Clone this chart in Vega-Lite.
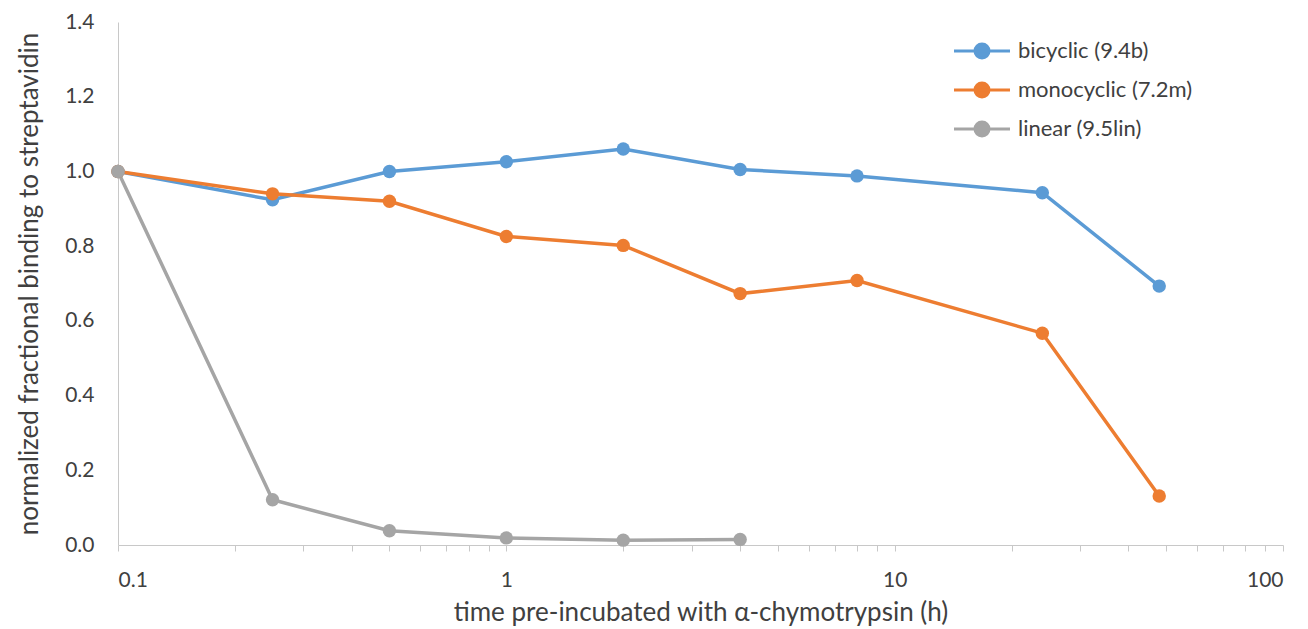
{
  "$schema": "https://vega.github.io/schema/vega-lite/v6.json",
  "width": 1165,
  "height": 523,
  "autosize": {"type": "none"},
  "padding": {"left": 118, "top": 22, "right": 25, "bottom": 84},
  "background": "white",
  "config": {
    "view": {"stroke": null},
    "font": "Lato",
    "axis": {"domainColor": "#c8c8c8", "tickColor": "#c8c8c8", "labelColor": "#404040", "titleColor": "#404040", "grid": false, "labelFont": "Lato", "titleFont": "Lato", "titleFontWeight": "normal"}
  },
  "data": {
    "values": [
      {"t": 0.1, "v": 1.0, "s": "bicyclic (9.4b)"},
      {"t": 0.25, "v": 0.924, "s": "bicyclic (9.4b)"},
      {"t": 0.5, "v": 1.0, "s": "bicyclic (9.4b)"},
      {"t": 1, "v": 1.026, "s": "bicyclic (9.4b)"},
      {"t": 2, "v": 1.06, "s": "bicyclic (9.4b)"},
      {"t": 4, "v": 1.005, "s": "bicyclic (9.4b)"},
      {"t": 8, "v": 0.988, "s": "bicyclic (9.4b)"},
      {"t": 24, "v": 0.943, "s": "bicyclic (9.4b)"},
      {"t": 48, "v": 0.693, "s": "bicyclic (9.4b)"},
      {"t": 0.1, "v": 1.0, "s": "monocyclic (7.2m)"},
      {"t": 0.25, "v": 0.94, "s": "monocyclic (7.2m)"},
      {"t": 0.5, "v": 0.92, "s": "monocyclic (7.2m)"},
      {"t": 1, "v": 0.826, "s": "monocyclic (7.2m)"},
      {"t": 2, "v": 0.802, "s": "monocyclic (7.2m)"},
      {"t": 4, "v": 0.673, "s": "monocyclic (7.2m)"},
      {"t": 8, "v": 0.708, "s": "monocyclic (7.2m)"},
      {"t": 24, "v": 0.567, "s": "monocyclic (7.2m)"},
      {"t": 48, "v": 0.131, "s": "monocyclic (7.2m)"},
      {"t": 0.1, "v": 1.0, "s": "linear (9.5lin)"},
      {"t": 0.25, "v": 0.121, "s": "linear (9.5lin)"},
      {"t": 0.5, "v": 0.038, "s": "linear (9.5lin)"},
      {"t": 1, "v": 0.019, "s": "linear (9.5lin)"},
      {"t": 2, "v": 0.013, "s": "linear (9.5lin)"},
      {"t": 4, "v": 0.015, "s": "linear (9.5lin)"}
    ]
  },
  "encoding": {
    "x": {
      "field": "t", "type": "quantitative",
      "scale": {"type": "log", "domain": [0.1, 100]},
      "axis": {
        "title": "time pre-incubated with α-chymotrypsin (h)",
        "values": [0.1,0.2,0.3,0.4,0.5,0.6,0.7,0.8,0.9,1,2,3,4,5,6,7,8,9,10,20,30,40,50,60,70,80,90,100],
        "labelExpr": "(datum.value == 0.1 || datum.value == 1 || datum.value == 10 || datum.value == 100) ? format(datum.value, '~g') : ''",
        "labelFontSize": 21, "labelPadding": 18, "tickSize": 6,
        "titleFontSize": 26, "titlePadding": 9
      }
    },
    "y": {
      "field": "v", "type": "quantitative",
      "scale": {"domain": [0, 1.4]},
      "axis": {
        "title": "normalized fractional binding to streptavidin",
        "values": [0,0.2,0.4,0.6,0.8,1.0,1.2,1.4],
        "format": ".1f", "ticks": false,
        "labelFontSize": 21, "labelPadding": 24,
        "titleFontSize": 26, "titlePadding": 22
      }
    },
    "color": {
      "field": "s", "type": "nominal",
      "sort": ["bicyclic (9.4b)", "monocyclic (7.2m)", "linear (9.5lin)"],
      "scale": {"domain": ["bicyclic (9.4b)", "monocyclic (7.2m)", "linear (9.5lin)"], "range": ["#5B9BD5", "#ED7D31", "#A5A5A5"]},
      "legend": {
        "title": null, "orient": "none", "legendX": 853, "legendY": 18,
        "symbolType": "M-4,0H4M-1,0A1,1,0,1,1,1,0A1,1,0,1,1,-1,0Z",
        "symbolSize": 196, "symbolStrokeWidth": 3, "symbolOpacity": 1,
        "labelOffset": 25, "labelFontSize": 22, "labelColor": "#404040", "labelLimit": 400,
        "rowPadding": 13, "padding": 0
      }
    }
  },
  "layer": [
    {"mark": {"type": "line", "strokeWidth": 3.5}},
    {"mark": {"type": "point", "filled": true, "size": 180, "opacity": 1}}
  ]
}
